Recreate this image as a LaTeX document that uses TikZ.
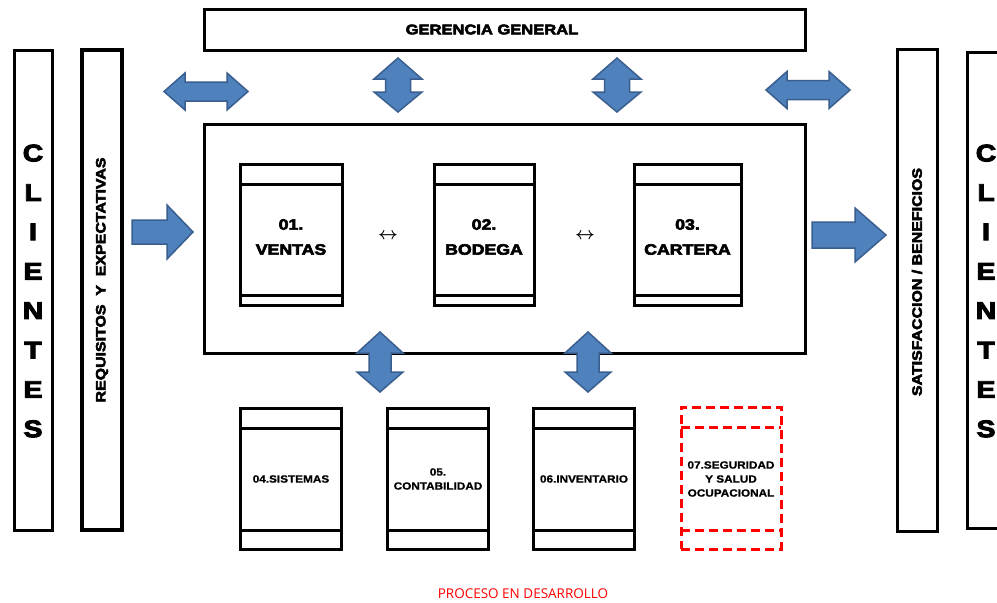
\documentclass[tikz,border=0pt]{standalone}
\usepackage{fontspec}
\setmainfont{Liberation Sans}
\newfontfamily\blk{Liberation Sans}[UprightFont=* Bold, BoldFont=* Bold, FakeBold=4, FakeStretch=1.18]
\newfontfamily\sub{Liberation Sans}[UprightFont=* Bold, BoldFont=* Bold, FakeBold=1, FakeStretch=1.12]
\newfontfamily\pfont{Open Sans}
\usetikzlibrary{calc}
\definecolor{arrfill}{HTML}{4F81BD}
\definecolor{arrline}{HTML}{3A5F8F}
\definecolor{dred}{HTML}{FF0000}
\tikzset{
  frame/.style={draw=black, line width=3pt, inner sep=0pt, outer sep=0pt},
  thickframe/.style={draw=black, line width=4pt, inner sep=0pt, outer sep=0pt},
  arr/.style={fill=arrfill, draw=arrline, line width=1.5pt, line join=miter},
  lbl/.style={font=\blk, align=center, inner sep=0pt},
  sublbl/.style={font=\sub\fontsize{10.5}{14}\selectfont, align=center, inner sep=0pt},
  redframe/.style={draw=dred, line width=3pt, dash pattern=on 9pt off 5pt, inner sep=0pt, outer sep=0pt}
}
\newcommand{\hdarrow}[2]{%
  \begin{scope}[shift={(#1,#2)}]
    \filldraw[arr] (-42,0) -- (-21,-18.5) -- (-21,-9.5) -- (21,-9.5) -- (21,-18.5) -- (42,0)
      -- (21,18.5) -- (21,9.5) -- (-21,9.5) -- (-21,18.5) -- cycle;
  \end{scope}}
\newcommand{\vdarrowtop}[2]{%
  \begin{scope}[shift={(#1,#2)}]
    \filldraw[arr] (0,-27) -- (24,-6) -- (12.5,-6) -- (12.5,7) -- (24,7) -- (0,27)
      -- (-24,7) -- (-12.5,7) -- (-12.5,-6) -- (-24,-6) -- cycle;
  \end{scope}}
\newcommand{\vdarrowbot}[2]{%
  \begin{scope}[shift={(#1,#2)}]
    \filldraw[arr] (0,-30) -- (23,-9) -- (11,-9) -- (11,10) -- (23,10) -- (0,30)
      -- (-23,10) -- (-11,10) -- (-11,-9) -- (-23,-9) -- cycle;
  \end{scope}}
\begin{document}
\begin{tikzpicture}[x=1pt,y=-1pt]
\useasboundingbox (0,0) rectangle (997,603);
\clip (0,0) rectangle (997,603);
\fill[white] (0,0) rectangle (997,603);

% side columns
\node[frame, minimum width=38pt, minimum height=480pt] (cliL) at (33,290) {};
\node[lbl, font=\blk\fontsize{24}{39.4}\selectfont] (cliLt) at (33,291) {C\\L\\I\\E\\N\\T\\E\\S};
\node[thickframe, minimum width=40pt, minimum height=480pt] (req) at (102,290) {};
\node[lbl, rotate=90, font=\blk\fontsize{13.5}{15}\selectfont] (reqt) at (102,280) {REQUISITOS \ Y \ EXPECTATIVAS};
\node[frame, minimum width=40pt, minimum height=482pt] (sat) at (917,290.5) {};
\node[lbl, rotate=90, font=\blk\fontsize{13.5}{15}\selectfont] (satt) at (917,282) {SATISFACCION / BENEFICIOS};
\node[frame, minimum width=44pt, minimum height=476pt] (cliR) at (989,290) {};
\node[lbl, font=\blk\fontsize{24}{39.4}\selectfont] (cliRt) at (986,291) {C\\L\\I\\E\\N\\T\\E\\S};

% top
\node[frame, minimum width=601pt, minimum height=41pt] (ger) at (504.5,29.5) {};
\node[lbl, font=\blk\fontsize{14}{15}\selectfont] (gert) at (492,29.5) {GERENCIA GENERAL};

% main box
\node[frame, minimum width=601pt, minimum height=229pt] (main) at (504.5,238.5) {};

% process boxes
\foreach \n/\cx/\w/\t in {ven/291/102/{01.\\VENTAS}, bod/484/100/{02.\\BODEGA}, car/687.5/107/{03.\\CARTERA}}{
  \node[frame, minimum width=\w pt, minimum height=141pt] (\n) at (\cx,234.5) {};
  \draw[line width=3pt] ($(\n.north west)+(0,20)$) -- ($(\n.north east)+(0,20)$);
  \draw[line width=3pt] ($(\n.south west)+(0,-10)$) -- ($(\n.south east)+(0,-10)$);
  \node[lbl, font=\blk\fontsize{15}{25}\selectfont] (\n t) at (\cx,237) {\t};
}
\node[inner sep=0pt, font=\boldmath\fontsize{18}{18}\selectfont] (lr1) at (388,236) {$\leftrightarrow$};
\node[inner sep=0pt, font=\boldmath\fontsize{18}{18}\selectfont] (lr2) at (585,236) {$\leftrightarrow$};

% support boxes
\foreach \n/\cx/\t in {sis/291/{04.SISTEMAS}, con/438/{05.\\CONTABILIDAD}, inv/584/{06.INVENTARIO}}{
  \node[frame, minimum width=101pt, minimum height=141pt] (\n) at (\cx,478.5) {};
  \draw[line width=3pt] ($(\n.north west)+(0,20)$) -- ($(\n.north east)+(0,20)$);
  \draw[line width=3pt] ($(\n.south west)+(0,-19)$) -- ($(\n.south east)+(0,-19)$);
  \node[sublbl] (\n t) at (\cx,479) {\t};
}
\node[redframe, minimum width=100pt, minimum height=142pt] (seg) at (731,478) {};
\draw[redframe] ($(seg.north west)+(0,20)$) -- ($(seg.north east)+(0,20)$);
\draw[redframe] ($(seg.south west)+(0,-19)$) -- ($(seg.south east)+(0,-19)$);
\node[sublbl] (segt) at (731,479) {07.SEGURIDAD\\Y SALUD\\OCUPACIONAL};

% arrows
\hdarrow{206}{91.5}
\hdarrow{808}{90}
\vdarrowtop{398}{85}
\vdarrowtop{617}{85}
\vdarrowbot{380}{362}
\vdarrowbot{588}{362}
\filldraw[arr] (132,220) -- (167,220) -- (167,205) -- (193,232) -- (167,259) -- (167,244) -- (132,244) -- cycle;
\filldraw[arr] (812,222) -- (855,222) -- (855,208) -- (886,235) -- (855,262) -- (855,248) -- (812,248) -- cycle;

% footer
\node[inner sep=0pt, text=dred, font=\pfont\fontsize{13.5}{15}\selectfont] (proc) at (523,594) {PROCESO EN DESARROLLO};
\end{tikzpicture}
\end{document}
